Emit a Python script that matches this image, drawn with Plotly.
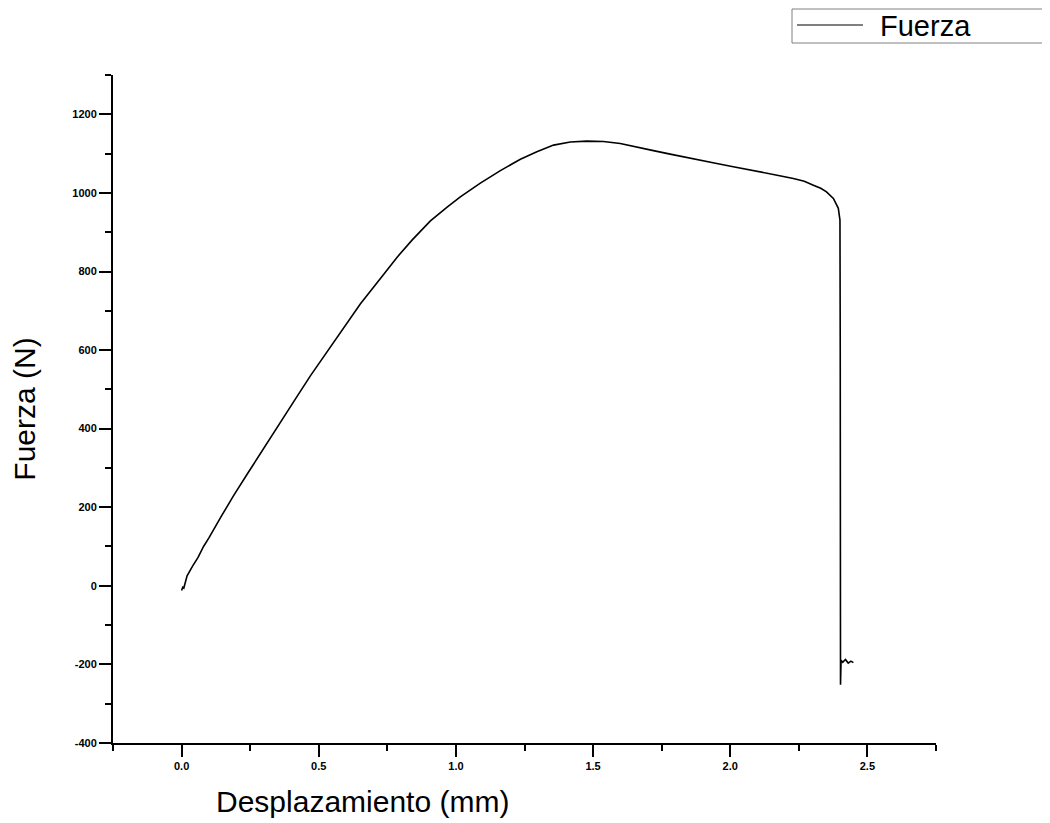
import plotly.graph_objects as go

# Displacement (mm) and force (N)
desplazamiento = [0.000, 0.004, 0.008, 0.020, 0.040, 0.060, 0.080, 0.099, 0.145, 0.190,
                  0.240, 0.288, 0.361, 0.421, 0.470, 0.531, 0.579, 0.652, 0.737, 0.785,
                  0.840, 0.907, 0.968, 1.016, 1.089, 1.162, 1.235, 1.295, 1.356, 1.417,
                  1.477, 1.538, 1.599, 1.659, 1.720, 1.781, 1.842, 1.902, 1.951, 2.011,
                  2.072, 2.133, 2.180, 2.230, 2.270, 2.303, 2.330, 2.351, 2.376, 2.394,
                  2.400, 2.401, 2.402, 2.404, 2.410, 2.420, 2.430, 2.440, 2.449]
fuerza = [-12, -4, -6, 25, 50, 72, 100, 121, 177, 230,
          285, 338, 418, 482, 535, 596, 645, 718, 793, 836,
          880, 929, 964, 990, 1025, 1057, 1086, 1105, 1122, 1130,
          1132, 1131, 1126, 1118, 1108, 1099, 1090, 1081, 1075, 1067,
          1058, 1050, 1044, 1037, 1030, 1020, 1012, 1003, 986, 961,
          931, 600, -252, -190, -195, -188, -197, -192, -196]

x_ticks = [0.0, 0.5, 1.0, 1.5, 2.0, 2.5]
x_ticklabels = ["0.0", "0.5", "1.0", "1.5", "2.0", "2.5"]
y_ticks = [-400, -200, 0, 200, 400, 600, 800, 1000, 1200]
y_ticklabels = [str(v) for v in y_ticks]
legend_label = "Fuerza"

TICKFONT = dict(family="Liberation Sans Narrow, Arial Narrow, Liberation Sans, Arial",
                size=11, color="black", weight="bold")
TITLEFONT = dict(family="Liberation Sans, Arial", size=30, color="black")

# The page places the figure 8 px from the top-left corner (body margin),
# so the figure is 8 px smaller and all screen positions are shifted by 8.
OFF = 8
W, H = 1050 - OFF, 823 - OFF
L, R, T, B = 113 - OFF, 936 - OFF, 75 - OFF, 743 - OFF
def px(xs):
    return (xs - OFF - L) / (R - L)
def py(ys):
    return (B - (ys - OFF)) / (B - T)

fig = go.Figure()
fig.add_trace(go.Scatter(
    x=desplazamiento, y=fuerza, mode="lines", name=legend_label,
    line=dict(color="black", width=1.6), showlegend=False,
))

axis_common = dict(
    showgrid=False, zeroline=False, showline=True, linecolor="black", linewidth=2,
    ticks="outside", ticklen=12, tickwidth=2, tickcolor="black",
    tickfont=TICKFONT,
)

fig.update_xaxes(
    range=[-0.2501, 2.7501], tickmode="array", tickvals=x_ticks, ticktext=x_ticklabels,
    minor=dict(ticks="outside", dtick=0.25, tick0=0, ticklen=6, tickwidth=2,
               tickcolor="black", showgrid=False),
    **axis_common,
)
fig.update_yaxes(
    range=[-400.5, 1300.5], tickmode="array", tickvals=y_ticks, ticktext=y_ticklabels,
    minor=dict(ticks="outside", dtick=100, tick0=0, ticklen=6, tickwidth=2,
               tickcolor="black", showgrid=False),
    title=dict(text="Fuerza (N)", font=TITLEFONT, standoff=34),
    **axis_common,
)

fig.add_annotation(
    text="Desplazamiento (mm)", xref="paper", yref="paper",
    x=px(362), y=py(801), xanchor="center", yanchor="middle",
    showarrow=False, font=TITLEFONT,
)

# legend box (partly beyond the right edge, as in the reference)
fig.add_shape(type="rect", xref="paper", yref="paper",
              x0=px(792), x1=px(1070), y0=py(43), y1=py(9),
              line=dict(color="#808080", width=1), fillcolor="white", layer="above")
fig.add_shape(type="line", xref="paper", yref="paper",
              x0=px(797), x1=px(863), y0=py(25), y1=py(25),
              line=dict(color="black", width=1), layer="above")
fig.add_annotation(
    text=legend_label, xref="paper", yref="paper",
    x=px(878), y=py(26), xanchor="left", yanchor="middle",
    showarrow=False, font=dict(family="Liberation Sans, Arial", size=29, color="black"),
)

fig.update_layout(
    width=W, height=H,
    margin=dict(l=L, r=W - R, t=T, b=H - B, autoexpand=False),
    paper_bgcolor="white", plot_bgcolor="white",
    showlegend=False,
)

fig.write_html("out.html")
